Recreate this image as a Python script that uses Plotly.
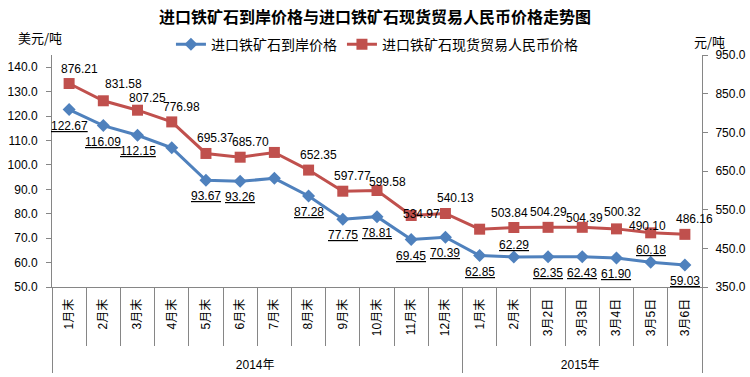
import plotly.graph_objects as go

# ---- data ----
years = ["2014年"] * 12 + ["2015年"] * 7
periods = ["1月末", "2月末", "3月末", "4月末", "5月末", "6月末", "7月末", "8月末",
           "9月末", "10月末", "11月末", "12月末", "1月末", "2月末",
           "3月2日", "3月3日", "3月4日", "3月5日", "3月6日"]
usd_price = [122.67, 116.09, 112.15, 107.0, 93.67, 93.26, 94.5, 87.28, 77.75, 78.81,
             69.45, 70.39, 62.85, 62.29, 62.35, 62.43, 61.90, 60.18, 59.03]
rmb_price = [876.21, 831.58, 807.25, 776.98, 695.37, 685.70, 698.0, 652.35, 597.77, 599.58,
             534.97, 540.13, 499.5, 503.84, 504.29, 504.39, 500.32, 490.10, 486.16]
usd_labeled = [1, 1, 1, 0, 1, 1, 0, 1, 1, 1, 1, 1, 1, 1, 1, 1, 1, 1, 1]
rmb_labeled = [1, 1, 1, 1, 1, 1, 0, 1, 1, 1, 1, 1, 0, 1, 1, 1, 1, 1, 1]

n = len(periods)

# label placement styles (pixel shifts relative to the marker)
usd_xshift = [0] * n
usd_yshift = [-16] * n
for i in (13, 17):          # labels drawn above the line
    usd_yshift[i] = 12
rmb_xshift = [10] * n
rmb_yshift = [15] * n
rmb_xshift[1] = 20
rmb_yshift[1] = 17
rmb_yshift[2] = 12
rmb_yshift[9] = 9
rmb_yshift[10] = 1
rmb_xshift[13] = -4
rmb_xshift[14] = 0
rmb_xshift[15] = 2
rmb_yshift[15] = 9
rmb_xshift[16] = 6
rmb_yshift[16] = 17
rmb_xshift[17] = -3
rmb_yshift[17] = 7

BLUE = "#4F81BD"
RED = "#C0504D"
GRAY = "#868686"
FONT = "Liberation Sans, Noto Sans CJK SC, sans-serif"
CJK = "Noto Sans CJK SC, sans-serif"

x = [["<br>" + y for y in years], periods]

fig = go.Figure()
fig.add_trace(go.Scatter(
    x=x, y=usd_price, name="进口铁矿石到岸价格", mode="lines+markers",
    line=dict(color=BLUE, width=3), marker=dict(symbol="diamond", size=10, color=BLUE),
))
fig.add_trace(go.Scatter(
    x=x, y=rmb_price, name="进口铁矿石现货贸易人民币价格", mode="lines+markers",
    line=dict(color=RED, width=3), marker=dict(symbol="square", size=11, color=RED),
    yaxis="y2",
))

annotations = []
for i, (v, s) in enumerate(zip(usd_price, usd_labeled)):
    if s:
        annotations.append(dict(
            x=i, y=v, xref="x", yref="y", text=f"<u>{v:.2f}</u>", showarrow=False,
            xshift=usd_xshift[i], yshift=usd_yshift[i],
            font=dict(family=FONT, size=12, color="black")))
for i, (v, s) in enumerate(zip(rmb_price, rmb_labeled)):
    if s:
        annotations.append(dict(
            x=i, y=v, xref="x", yref="y2", text=f"{v:.2f}", showarrow=False,
            xshift=rmb_xshift[i], yshift=rmb_yshift[i],
            font=dict(family=FONT, size=12, color="black")))

annotations += [
    dict(text="美元/吨", xref="paper", yref="paper", x=-0.056, y=1.075,
         xanchor="left", yanchor="middle", showarrow=False,
         font=dict(family=CJK, size=13)),
    dict(text="元/吨", xref="paper", yref="paper", x=0.985, y=1.06,
         xanchor="left", yanchor="middle", showarrow=False,
         font=dict(family=CJK, size=13)),
]

fig.update_layout(
    width=750, height=377,
    margin=dict(l=52, r=48, t=55, b=90, autoexpand=False),
    paper_bgcolor="white", plot_bgcolor="white",
    font=dict(family=FONT, size=12, color="black"),
    title=dict(text="<b>进口铁矿石到岸价格与进口铁矿石现货贸易人民币价格走势图</b>",
               font=dict(family=CJK, size=16, color="black"),
               x=0.5, xanchor="center", y=0.955, yanchor="middle"),
    showlegend=True,
    legend=dict(orientation="h", x=0.183, xanchor="left", y=1.045, yanchor="middle",
                itemwidth=30, font=dict(family=CJK, size=14), bgcolor="rgba(0,0,0,0)"),
    xaxis=dict(type="multicategory", range=[-0.5, n - 0.5], showline=True, linecolor=GRAY,
               ticks="outside", ticklen=58, tickcolor=GRAY, tickangle=-90, showgrid=False,
               ticklabelstandoff=6,
               tickfont=dict(family=FONT, size=12), showdividers=True,
               dividercolor=GRAY, dividerwidth=1),
    yaxis=dict(range=[50, 145], tick0=50, dtick=10, tickformat=".1f", showgrid=False,
               showline=True, linecolor=GRAY, ticks="outside", ticklen=5, tickcolor=GRAY,
               ticklabelstandoff=6, zeroline=False, tickfont=dict(size=12)),
    yaxis2=dict(range=[350, 950], tick0=350, dtick=100, tickformat=".1f", showgrid=False,
                showline=True, linecolor=GRAY, ticks="outside", ticklen=5, tickcolor=GRAY,
                ticklabelstandoff=5,
                overlaying="y", side="right", zeroline=False, tickfont=dict(size=12)),
    annotations=annotations,
)

fig.write_html("out.html", config={"displayModeBar": False},
               post_script="document.body.style.margin='0';")
